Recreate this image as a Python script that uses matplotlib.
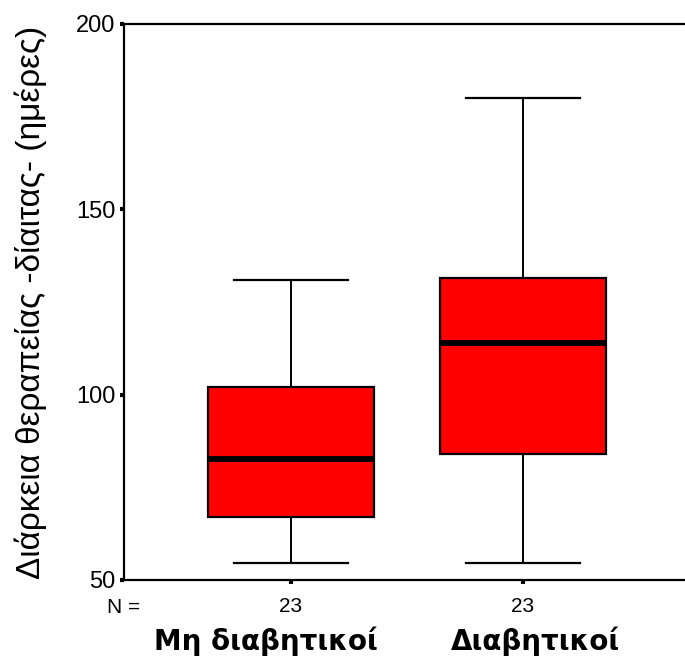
import matplotlib
matplotlib.use('Agg')
import matplotlib.pyplot as plt

# box plot stats
groups = ['Μη διαβητικοί', 'Διαβητικοί']
counts = [23, 23]
whislo = [54.5, 54.5]
q1 = [67, 84]
med = [82.5, 114]
q3 = [102, 131.5]
whishi = [131, 180]

yticks = [50, 100, 150, 200]
ylabel = 'Διάρκεια θεραπείας -δίαιτας- (ημέρες)'

stats = []
for i in range(len(groups)):
    stats.append(dict(whislo=whislo[i], q1=q1[i], med=med[i], q3=q3[i],
                      whishi=whishi[i], fliers=[], label=str(counts[i])))

fig = plt.figure(figsize=(6.85, 6.59), dpi=100)
ax = fig.add_axes([0.181, 0.12, 0.819, 0.8436])

ax.bxp(stats, positions=[1, 2], widths=0.716, capwidths=0.49,
       showfliers=False, patch_artist=True,
       boxprops=dict(facecolor='#ff0000', edgecolor='black', linewidth=1.6),
       medianprops=dict(color='black', linewidth=4.2, solid_capstyle='butt'),
       whiskerprops=dict(color='black', linewidth=1.4),
       capprops=dict(color='black', linewidth=1.6))

ax.set_xlim(0.28, 2.70)
ax.set_ylim(50, 200)
ax.set_yticks(yticks)
ax.set_yticklabels([str(t) for t in yticks], family='Liberation Sans', fontsize=17)
ax.set_xticklabels([str(c) for c in counts], family='Liberation Sans', fontsize=15)
ax.tick_params(axis='both', direction='out', length=3, width=3, color='black')
ax.tick_params(axis='y', pad=3)
ax.tick_params(axis='x', pad=9)

for s in ['left', 'top', 'bottom']:
    ax.spines[s].set_linewidth(1.6)
ax.spines['right'].set_visible(False)

ax.set_ylabel(ylabel, family='Liberation Sans', fontsize=24, labelpad=21)

ax.text(0.0, -0.05, 'N =', transform=ax.transAxes, ha='center', va='center',
        family='Liberation Sans', fontsize=15)
# group names sit a little left of the boxes in the original
for g, xf in zip(groups, [0.253, 0.733]):
    ax.text(xf, -0.11, g, transform=ax.transAxes, ha='center', va='center',
            family='DejaVu Sans', fontweight='bold', fontsize=20)

fig.savefig('out.png', dpi=100)
